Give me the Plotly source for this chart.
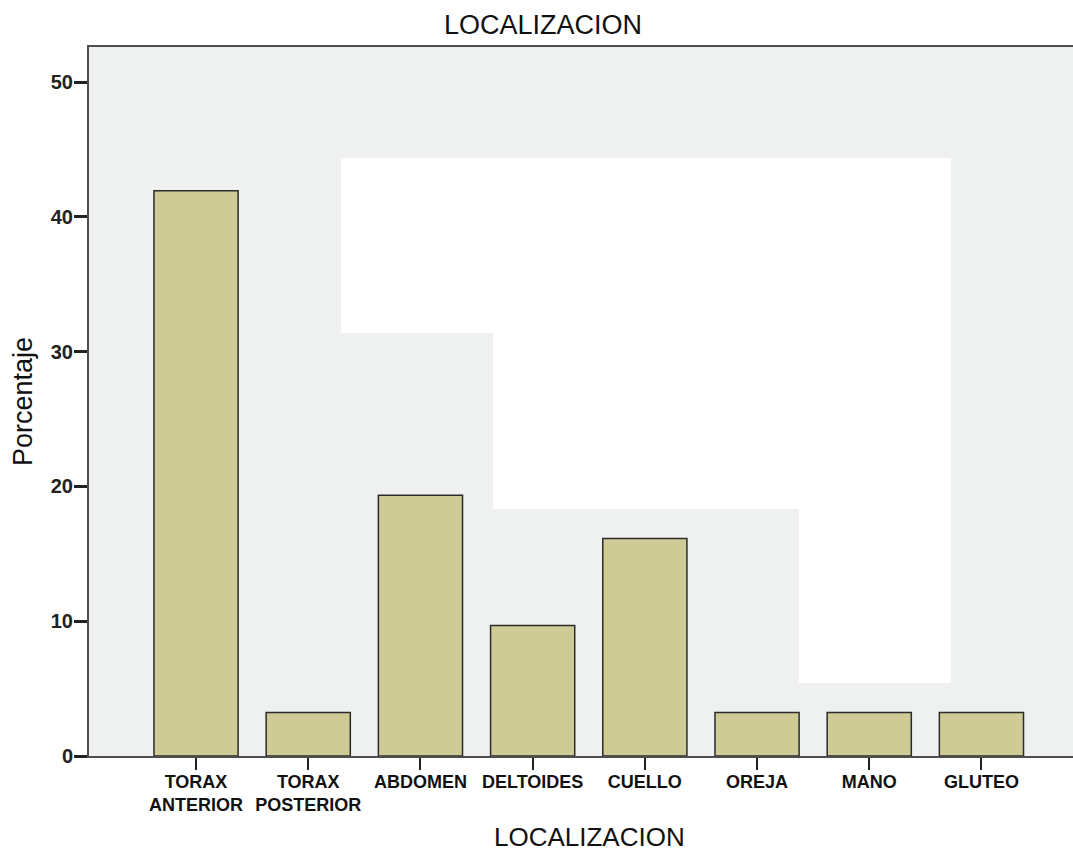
import plotly.graph_objects as go

# Percentage of cases by injury location
categories = ["TORAX<br>ANTERIOR", "TORAX<br>POSTERIOR", "ABDOMEN", "DELTOIDES",
              "CUELLO", "OREJA", "MANO", "GLUTEO"]
percent = [41.94, 3.23, 19.35, 9.68, 16.13, 3.23, 3.23, 3.23]
y_ticks = [0, 10, 20, 30, 40, 50]

W, H = 1073, 854
M_L, M_R, M_T, M_B = 89, 0, 47, 98

fig = go.Figure()
fig.add_trace(go.Bar(
    x=categories,
    y=percent,
    marker=dict(color="#cecb96", line=dict(color="#2b2b2b", width=1.5)),
    hoverinfo="x+y",
))

# white inset panels sitting behind the bars (staircase)
panels = [
    (1.292, 6.729, 31.38, 44.36),
    (2.647, 6.729, 18.32, 44.36),
    (5.374, 6.729, 5.42, 44.36),
]
for x0, x1, y0, y1 in panels:
    fig.add_shape(type="rect", xref="x", yref="y", x0=x0, x1=x1, y0=y0, y1=y1,
                  fillcolor="#ffffff", line=dict(width=0), layer="below")

axis_col = "#4d4d4d"
fig.update_layout(
    width=W, height=H,
    margin=dict(l=M_L, r=M_R, t=M_T, b=M_B, pad=0),
    paper_bgcolor="#ffffff",
    plot_bgcolor="#eff1f0",
    bargap=0.25,
    showlegend=False,
    font=dict(family="Liberation Sans, Arial, sans-serif", color="#111111"),
    title=dict(text="LOCALIZACION", x=543 / W, xanchor="center",
               xref="container",
               y=1 - 25 / H, yanchor="middle", yref="container",
               font=dict(size=27, color="#111111")),
    xaxis=dict(
        type="category",
        range=[-0.954, 7.816],
        showgrid=False, zeroline=False,
        showline=True, linecolor=axis_col, linewidth=2, mirror=True,
        ticks="outside", ticklen=12, tickwidth=2, tickcolor="#222222",
        tickfont=dict(size=18, color="#111111",
                      family="Liberation Sans, Arial, sans-serif"),
        ticklabelstandoff=-4,
    ),
    yaxis=dict(
        range=[0, 52.6],
        tickvals=y_ticks,
        showgrid=False, zeroline=False,
        showline=True, linecolor=axis_col, linewidth=2,
        ticks="outside", ticklen=13, tickwidth=2.5, tickcolor="#222222",
        tickfont=dict(size=20, color="#222222",
                      family="Liberation Sans, Arial, sans-serif"),
        ticklabelstandoff=-3,
    ),
)

# bold tick labels
fig.update_xaxes(tickfont_weight="bold")
fig.update_yaxes(tickfont_weight="bold")

plot_w = W - M_L - M_R
plot_h = H - M_T - M_B
fig.add_annotation(text="LOCALIZACION", xref="paper", yref="paper",
                   x=(589 - M_L) / plot_w, y=(H - M_B - 837) / plot_h,
                   xanchor="center", yanchor="middle", showarrow=False,
                   font=dict(size=26, color="#111111"))
fig.add_annotation(text="Porcentaje", xref="paper", yref="paper",
                   x=(23 - M_L) / plot_w, y=(H - M_B - 402) / plot_h,
                   xanchor="center", yanchor="middle", textangle=-90,
                   showarrow=False, font=dict(size=27, color="#111111"))

fig.write_html("out.html")
